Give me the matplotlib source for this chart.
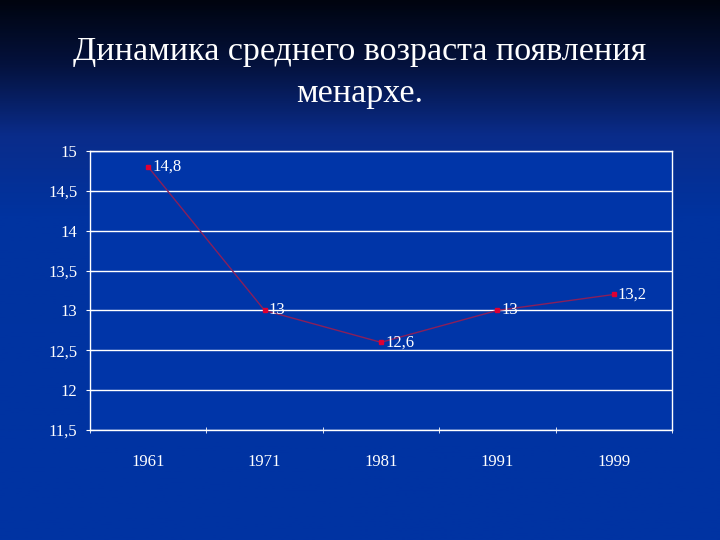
import numpy as np
import matplotlib
matplotlib.use("Agg")
import matplotlib.pyplot as plt
from matplotlib.colors import LinearSegmentedColormap

# data
years = ["1961", "1971", "1981", "1991", "1999"]
ages = [14.8, 13.0, 12.6, 13.0, 13.2]
point_labels = ["14,8", "13", "12,6", "13", "13,2"]
y_ticks = [11.5, 12, 12.5, 13, 13.5, 14, 14.5, 15]
y_tick_labels = ["11,5", "12", "12,5", "13", "13,5", "14", "14,5", "15"]

plt.rcParams["font.family"] = ["Liberation Serif", "DejaVu Serif"]

fig = plt.figure(figsize=(7.2, 5.4), dpi=100)

# background gradient: near black at the top, blue below
bg = fig.add_axes([0, 0, 1, 1])
cmap = LinearSegmentedColormap.from_list(
    "slide", [(0.0, "#00040f"), (0.12, "#04123e"), (0.25, "#0a2c8a"), (0.4, "#0033a0"), (1.0, "#0033a3")])
grad = np.linspace(0, 1, 256).reshape(-1, 1)
bg.imshow(grad, aspect="auto", cmap=cmap, extent=[0, 1, 0, 1], origin="upper")
bg.set_axis_off()

fig.text(0.5, 0.904, "Динамика среднего возраста появления", ha="center", va="center",
         color="white", fontsize=24.5)
fig.text(0.5, 0.826, "менархе.", ha="center", va="center", color="white", fontsize=24.5)

ax = fig.add_axes([90 / 720, 1 - 430 / 540, 582 / 720, 279 / 540])
ax.set_facecolor("#0035a8")
x = np.arange(len(years))
ax.plot(x, ages, color="#8a1f5a", linewidth=1.0, zorder=3)
ax.plot(x, ages, linestyle="none", marker="s", markersize=3.5, color="#dd0033", zorder=4)
for xi, yi, lab in zip(x, ages, point_labels):
    ax.annotate(lab, (xi, yi), xytext=(3, 0), textcoords="offset points",
                color="white", fontsize=12, va="center", ha="left", zorder=5)

ax.set_xlim(-0.5, len(years) - 0.5)
ax.set_ylim(11.5, 15)
ax.set_yticks(y_ticks)
ax.set_yticklabels(y_tick_labels)
ax.set_xticks(x)
ax.set_xticklabels(years)
ax.set_xticks(np.arange(-0.5, len(years)), minor=True)
ax.tick_params(axis="x", which="major", length=0, pad=17, labelcolor="white", labelsize=12)
ax.tick_params(axis="x", which="minor", length=5, direction="inout", color="white")
ax.tick_params(axis="y", length=6, direction="inout", color="white", labelcolor="white",
               labelsize=12, pad=6)
ax.grid(axis="y", color="white", linewidth=1.0, zorder=1)
for s in ax.spines.values():
    s.set_color("white")
    s.set_linewidth(1.0)

fig.savefig("out.png", dpi=100)
